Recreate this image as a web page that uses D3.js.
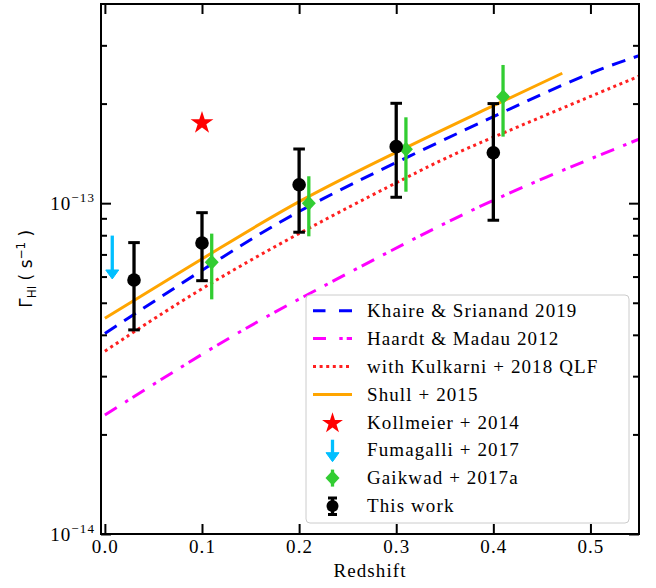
<!DOCTYPE html>
<html><head><meta charset="utf-8">
<script src="https://cdn.jsdelivr.net/npm/d3@7"></script>
<style>
html,body{margin:0;padding:0;background:#fff;}
svg{display:block;}
</style>
</head><body>
<svg id="chart" width="656" height="588"></svg>
<script>
// ---- data ----
const xTicks = [0.0, 0.1, 0.2, 0.3, 0.4, 0.5];
const yMajorTicks = [1e-14, 1e-13];
const yMajorLabels = ["14", "13"];
const yMinorTicks = [2e-14,3e-14,4e-14,5e-14,6e-14,7e-14,8e-14,9e-14,2e-13,3e-13];

const khaireZ   = [0.0, 0.129, 0.211, 0.376, 0.496, 0.55];
const khaireG   = [4.04e-14, 7.14e-14, 9.99e-14, 1.696e-13, 2.47e-13, 2.79e-13];
const hmZ       = [0.0, 0.136, 0.232, 0.335, 0.421, 0.55];
const hmG       = [2.29e-14, 4.09e-14, 5.75e-14, 8.30e-14, 1.096e-13, 1.561e-13];
const kulkZ     = [0.0, 0.129, 0.335, 0.376, 0.55];
const kulkG     = [3.57e-14, 6.36e-14, 1.305e-13, 1.482e-13, 2.42e-13];
const shullZ    = [0.0, 0.129, 0.2, 0.294, 0.376, 0.471];
const shullG    = [4.49e-14, 7.65e-14, 1.02e-13, 1.399e-13, 1.826e-13, 2.47e-13];

const kollZ = [0.1];
const kollG = [1.748e-13];

const fumZ = [0.0076];
const fumUpper = [7.98e-14];
const fumTip = [5.90e-14];

const gaikZ  = [0.11, 0.21, 0.31, 0.41];
const gaikG  = [6.63e-14, 9.99e-14, 1.455e-13, 2.099e-13];
const gaikHi = [8.09e-14, 1.206e-13, 1.818e-13, 2.617e-13];
const gaikLo = [5.12e-14, 7.94e-14, 1.083e-13, 1.589e-13];

const workZ  = [0.03, 0.1, 0.2, 0.3, 0.4];
const workG  = [5.86e-14, 7.58e-14, 1.137e-13, 1.482e-13, 1.421e-13];
const workHi = [7.60e-14, 9.36e-14, 1.458e-13, 2.004e-13, 2.0e-13];
const workLo = [4.14e-14, 5.83e-14, 8.17e-14, 1.042e-13, 8.88e-14];

const legendLabels = ["Khaire & Srianand 2019", "Haardt & Madau 2012", "with Kulkarni + 2018 QLF",
  "Shull + 2015", "Kollmeier + 2014", "Fumagalli + 2017", "Gaikwad + 2017a", "This work"];

// ---- drawing ----
const SERIF = "'Liberation Serif', serif";
const SANS = "'DejaVu Sans', sans-serif";
const FS = "19px";
const LS = "1.1px";
const svg = d3.select("#chart");
const L = 101, R = 639, T = 4, B = 534;
const x = d3.scaleLinear().domain([-0.004, 0.55]).range([L, R]);
const y = d3.scaleLog().domain([1e-14, 4e-13]).range([B, T]);

const plot = svg.append("g");
svg.append("clipPath").attr("id","clip").append("rect")
  .attr("x", L).attr("y", T).attr("width", R-L).attr("height", B-T);
const lines = plot.append("g").attr("clip-path","url(#clip)");

const lineGen = d3.line().x(d => x(d[0])).y(d => y(d[1])).curve(d3.curveBasis);
function drawLine(zs, gs, color, dash, w) {
  lines.append("path").attr("d", lineGen(zs.map((z,i)=>[z, gs[i]])))
    .attr("fill","none").attr("stroke", color).attr("stroke-width", w)
    .attr("stroke-dasharray", dash);
}
drawLine(khaireZ, khaireG, "#0000ff", "14,9", 3);
drawLine(hmZ, hmG, "#ff00ff", "14,10,3.5,5.5", 3);
drawLine(kulkZ, kulkG, "#ff2020", "3,3.6", 3);
drawLine(shullZ, shullG, "#ffa500", null, 3);

function starPath(R0) {
  const r0 = R0 * 0.382;
  const pts = [];
  for (let i = 0; i < 10; i++) {
    const a = -Math.PI/2 + i * Math.PI/5;
    const rr = i % 2 === 0 ? R0 : r0;
    pts.push([rr*Math.cos(a), rr*Math.sin(a)]);
  }
  return "M" + pts.map(p => p[0].toFixed(2)+","+p[1].toFixed(2)).join("L") + "Z";
}
const diamond = "M0,-7.5L7,0L0,7.5L-7,0Z";

const marks = plot.append("g");
function drawArrow(g, cx, y1, y2) {
  g.append("line").attr("x1",cx).attr("x2",cx).attr("y1",y1).attr("y2",y2-4)
    .attr("stroke","#00bfff").attr("stroke-width",3.3);
  g.append("path").attr("d", `M${cx-6.5},${y2-9}L${cx+6.5},${y2-9}L${cx},${y2}Z`)
    .attr("fill","#00bfff").attr("stroke","#00bfff").attr("stroke-width",1).attr("stroke-linejoin","round");
}
fumZ.forEach((z,i)=> drawArrow(marks, x(z), y(fumUpper[i]), y(fumTip[i])));

gaikZ.forEach((z,i)=>{
  marks.append("line").attr("x1",x(z)).attr("x2",x(z)).attr("y1",y(gaikLo[i])).attr("y2",y(gaikHi[i]))
    .attr("stroke","#32cd32").attr("stroke-width",3.3);
  marks.append("path").attr("d",diamond).attr("transform",`translate(${x(z)},${y(gaikG[i])})`)
    .attr("fill","#32cd32");
});
workZ.forEach((z,i)=>{
  const cx = x(z);
  marks.append("line").attr("x1",cx).attr("x2",cx).attr("y1",y(workLo[i])).attr("y2",y(workHi[i]))
    .attr("stroke","#000").attr("stroke-width",3.3);
  [workLo[i], workHi[i]].forEach(v=>{
    marks.append("line").attr("x1",cx-5.8).attr("x2",cx+5.8).attr("y1",y(v)).attr("y2",y(v))
      .attr("stroke","#000").attr("stroke-width",3);
  });
  marks.append("circle").attr("cx",cx).attr("cy",y(workG[i])).attr("r",6.8).attr("fill","#000");
});
kollZ.forEach((z,i)=>{
  marks.append("path").attr("d",starPath(12)).attr("transform",`translate(${x(z)},${y(kollG[i])})`)
    .attr("fill","#ff0000");
});

// ---- axes ----
const axes = svg.append("g");
const fmt = d3.format(".1f");
const xb = axes.append("g").attr("transform",`translate(0,${B})`)
  .call(d3.axisBottom(x).tickValues(xTicks).tickSizeInner(-10).tickSizeOuter(0).tickPadding(6).tickFormat(fmt));
axes.append("g").attr("transform",`translate(0,${T})`)
  .call(d3.axisTop(x).tickValues(xTicks).tickSizeInner(-10).tickSizeOuter(0).tickFormat(""));
axes.append("g").attr("transform",`translate(${L},0)`)
  .call(d3.axisLeft(y).tickValues(yMajorTicks).tickSizeInner(-10).tickSizeOuter(0).tickFormat(""));
axes.append("g").attr("transform",`translate(${L},0)`)
  .call(d3.axisLeft(y).tickValues(yMinorTicks).tickSizeInner(-6).tickSizeOuter(0).tickFormat(""));
axes.append("g").attr("transform",`translate(${R},0)`)
  .call(d3.axisRight(y).tickValues(yMajorTicks).tickSizeInner(-10).tickSizeOuter(0).tickFormat(""));
axes.append("g").attr("transform",`translate(${R},0)`)
  .call(d3.axisRight(y).tickValues(yMinorTicks).tickSizeInner(-6).tickSizeOuter(0).tickFormat(""));
axes.selectAll(".domain").remove();
axes.selectAll(".tick line").attr("stroke","#000").attr("stroke-width",2);
xb.selectAll(".tick text").style("font-family",SERIF).style("font-size",FS).style("letter-spacing",LS).attr("fill","#000");

yMajorTicks.forEach((v,i)=>{
  const t = axes.append("text").attr("x",95).attr("y",y(v)+6.8)
    .attr("text-anchor","end").style("font-family",SERIF).style("font-size",FS).style("letter-spacing",LS).attr("fill","#000");
  t.append("tspan").text("10");
  t.append("tspan").style("font-size","13px").attr("dy",-8).text("\u2212" + yMajorLabels[i]);
});

axes.append("rect").attr("x",L).attr("y",T).attr("width",R-L).attr("height",B-T)
  .attr("fill","none").attr("stroke","#000").attr("stroke-width",2);

svg.append("text").attr("x",(L+R)/2).attr("y",577).attr("text-anchor","middle")
  .style("font-family",SERIF).style("font-size",FS).style("letter-spacing",LS).attr("fill","#000").text("Redshift");
const ylab = svg.append("text").attr("transform","translate(32,268.8) rotate(-90)")
  .attr("text-anchor","middle").style("font-family",SANS).style("font-size","17px").attr("fill","#000");
ylab.append("tspan").text("\u0393");
ylab.append("tspan").style("font-size","12px").attr("dy",3.5).text("HI");
ylab.append("tspan").attr("dy",-3.5).text("\u00a0(\u00a0s");
ylab.append("tspan").style("font-size","12px").attr("dy",-7).text("\u22121");
ylab.append("tspan").attr("dy",7).text("\u00a0)");

// ---- legend ----
const lg = svg.append("g");
lg.append("rect").attr("x",306).attr("y",295).attr("width",323).attr("height",228).attr("rx",4)
  .attr("fill","#fff").attr("fill-opacity",0.8).attr("stroke","#cccccc").attr("stroke-width",1);
const rowY = i => 310.7 + i*27.9;
const hx0 = 313, hx1 = 352, hcx = 332.5;
function legLine(i, color, dash) {
  lg.append("line").attr("x1",hx0).attr("x2",hx1).attr("y1",rowY(i)).attr("y2",rowY(i))
    .attr("stroke",color).attr("stroke-width",3).attr("stroke-dasharray",dash);
}
legLine(0, "#0000ff", "12.5,13.5,14");
legLine(1, "#ff00ff", "13,13.3,3.4,4,13");
legLine(2, "#ff2020", "3,3.6");
legLine(3, "#ffa500", null);
lg.append("path").attr("d",starPath(11)).attr("transform",`translate(${hcx},${rowY(4)+1})`).attr("fill","#ff0000");
drawArrow(lg, hcx, rowY(5)-10.5, rowY(5)+11.5);
lg.append("line").attr("x1",hcx).attr("x2",hcx).attr("y1",rowY(6)-8.5).attr("y2",rowY(6)+8.5)
  .attr("stroke","#32cd32").attr("stroke-width",3.3);
lg.append("path").attr("d",diamond).attr("transform",`translate(${hcx},${rowY(6)})`).attr("fill","#32cd32");
lg.append("line").attr("x1",hcx).attr("x2",hcx).attr("y1",rowY(7)-8).attr("y2",rowY(7)+8.5)
  .attr("stroke","#000").attr("stroke-width",3.3);
[-8, 8.5].forEach(d=>{
  lg.append("line").attr("x1",hcx-4.5).attr("x2",hcx+4.5).attr("y1",rowY(7)+d).attr("y2",rowY(7)+d)
    .attr("stroke","#000").attr("stroke-width",3);
});
lg.append("circle").attr("cx",hcx).attr("cy",rowY(7)).attr("r",6).attr("fill","#000");
legendLabels.forEach((s,i)=>{
  lg.append("text").attr("x",367).attr("y",rowY(i)).attr("dy","0.33em")
    .style("font-family",SERIF).style("font-size",FS).style("letter-spacing",LS).attr("fill","#000").text(s);
});
</script>
</body></html>
